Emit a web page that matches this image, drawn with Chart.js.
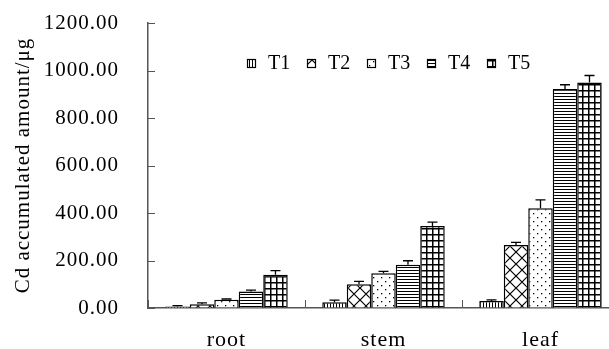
<!DOCTYPE html>
<html lang="en">
<head>
<meta charset="UTF-8">
<title>Cd accumulated amount</title>
<script src="https://cdn.jsdelivr.net/npm/chart.js"></script>
<style>
    html, body { margin: 0; padding: 0; background: #fff; overflow: hidden; }
    #wrap { width: 609px; height: 349px; overflow: hidden; }
</style>
</head>
<body>
<div id="wrap">
    <canvas id="myChart" width="620" height="349"></canvas>
</div>
<script>
    // categorias e series
    const categorias = ['root', 'stem', 'leaf'];
    const tratamentos = ['T1', 'T2', 'T3', 'T4', 'T5'];
    const T1 = [6, 24, 30];
    const T2 = [16, 100, 265];
    const T3 = [35, 146, 420];
    const T4 = [70, 182, 922];
    const T5 = [140, 345, 950];
    // desvios (so para cima)
    const errT1 = [4, 9, 4];
    const errT2 = [6, 12, 11];
    const errT3 = [3, 8, 35];
    const errT4 = [5, 17, 18];
    const errT5 = [17, 17, 29];
    const yTicks = [0, 200, 400, 600, 800, 1000, 1200];

    const series = [T1, T2, T3, T4, T5];
    const erros = [errT1, errT2, errT3, errT4, errT5];
    const fonte = "'Liberation Serif', 'DejaVu Serif', serif";

    // hachuras
    function padrao(tipo) {
        const t = document.createElement('canvas');
        let s = 3;
        if (tipo == 'cruz') s = 12;
        if (tipo == 'pontos') s = 8;
        if (tipo == 'grade') s = 6;
        t.width = s; t.height = s;
        const c = t.getContext('2d');
        c.fillStyle = '#fff';
        c.fillRect(0, 0, s, s);
        c.fillStyle = '#000';
        c.strokeStyle = '#000';
        if (tipo == 'vertical') {
            c.fillRect(0, 0, 1, s);
        } else if (tipo == 'horizontal') {
            c.fillRect(0, 0, s, 1);
        } else if (tipo == 'grade') {
            c.fillRect(0, 0, 1.5, s);
            c.fillRect(0, 0, s, 1.5);
        } else if (tipo == 'pontos') {
            c.fillRect(1, 1, 1.3, 1.3);
            c.fillRect(5, 5, 1.3, 1.3);
        } else if (tipo == 'cruz') {
            c.lineWidth = 1.2;
            c.beginPath();
            c.moveTo(0, 0); c.lineTo(s, s);
            c.moveTo(s, 0); c.lineTo(0, s);
            c.stroke();
        }
        return c.createPattern(t, 'repeat');
    }
    const padroes = [padrao('vertical'), padrao('cruz'), padrao('pontos'), padrao('horizontal'), padrao('grade')];

    // espacamento entre letras (imita a fonte do original)
    const espaco = {
        id: 'espaco',
        beforeLayout(chart) { chart.ctx.letterSpacing = '1px'; },
        beforeDraw(chart) { chart.ctx.letterSpacing = '1px'; }
    };

    // barras de erro
    const barrasErro = {
        id: 'barrasErro',
        afterDatasetsDraw(chart) {
            const ctx = chart.ctx;
            const y = chart.scales.y;
            ctx.save();
            ctx.strokeStyle = '#000';
            ctx.lineWidth = 1.3;
            chart.data.datasets.forEach(function (ds, i) {
                const meta = chart.getDatasetMeta(i);
                meta.data.forEach(function (bar, j) {
                    const topo = y.getPixelForValue(ds.data[j] + erros[i][j]);
                    ctx.beginPath();
                    ctx.moveTo(bar.x, bar.y);
                    ctx.lineTo(bar.x, topo);
                    ctx.moveTo(bar.x - 5, topo);
                    ctx.lineTo(bar.x + 5, topo);
                    ctx.stroke();
                });
            });
            ctx.restore();
        }
    };

    // marcas de escala para dentro + legenda
    const extras = {
        id: 'extras',
        afterDraw(chart) {
            const ctx = chart.ctx;
            const a = chart.chartArea;
            const x = chart.scales.x;
            const y = chart.scales.y;
            ctx.save();
            ctx.strokeStyle = '#555';
            ctx.lineWidth = 1;
            y.ticks.forEach(function (t) {
                const py = Math.round(y.getPixelForValue(t.value)) + 0.5;
                ctx.beginPath();
                ctx.moveTo(a.left, py);
                ctx.lineTo(a.left + 7, py);
                ctx.stroke();
            });
            const w = (a.right - a.left) / categorias.length;
            for (let i = 0; i <= categorias.length; i++) {
                const px = Math.round(x.getPixelForValue(i) - w / 2) + 0.5;
                ctx.beginPath();
                ctx.moveTo(px, a.bottom);
                ctx.lineTo(px, a.bottom - 8);
                ctx.stroke();
            }
            // legenda
            ctx.letterSpacing = '0px';
            ctx.font = '20px ' + fonte;
            ctx.textBaseline = 'middle';
            chart.data.datasets.forEach(function (ds, i) {
                const bx = 247 + i * 60;
                ctx.fillStyle = ds.backgroundColor;
                ctx.fillRect(bx, 59, 9, 9);
                ctx.strokeStyle = '#000';
                ctx.lineWidth = 1.2;
                ctx.strokeRect(bx + 0.5, 59.5, 8, 8);
                ctx.fillStyle = '#000';
                ctx.fillText(ds.label, bx + 21, 64);
            });
            ctx.restore();
        }
    };

    const ctx1 = document.getElementById('myChart').getContext('2d');
    const myChart = new Chart(ctx1, {
        type: 'bar',
        data: {
            labels: categorias,
            datasets: tratamentos.map(function (nome, i) {
                return {
                    label: nome,
                    data: series[i],
                    backgroundColor: padroes[i],
                    borderColor: '#000',
                    borderWidth: 1.5,
                    categoryPercentage: 0.78,
                    barPercentage: 1.0
                };
            })
        },
        options: {
            responsive: false,
            animation: false,
            devicePixelRatio: 1,
            layout: { padding: { left: 0, right: 1, top: 23, bottom: 0 } },
            plugins: {
                legend: { display: false },
                tooltip: { enabled: false }
            },
            scales: {
                x: {
                    afterFit(scale) { scale.height = 41; },
                    grid: { drawOnChartArea: false, drawTicks: true, tickLength: 19, tickColor: 'rgba(0,0,0,0)' },
                    border: { color: '#555', width: 1.5 },
                    ticks: { color: '#000', font: { family: fonte, size: 22 }, padding: 0 }
                },
                y: {
                    min: 0,
                    max: 1200,
                    afterFit(scale) { scale.width = 148; },
                    afterBuildTicks(scale) {
                        scale.ticks = yTicks.map(function (v) { return { value: v }; });
                    },
                    grid: { drawOnChartArea: false, drawTicks: true, tickLength: 29, tickColor: 'rgba(0,0,0,0)' },
                    border: { color: '#555', width: 1.5 },
                    ticks: {
                        color: '#000',
                        font: { family: fonte, size: 21 },
                        padding: 0,
                        callback: function (v) { return Number(v).toFixed(2); }
                    },
                    title: {
                        display: true,
                        text: 'Cd accumulated amount/μg',
                        color: '#000',
                        font: { family: fonte, size: 21 },
                        padding: { top: 11, bottom: 0 }
                    }
                }
            }
        },
        plugins: [espaco, barrasErro, extras]
    });
</script>
</body>
</html>
